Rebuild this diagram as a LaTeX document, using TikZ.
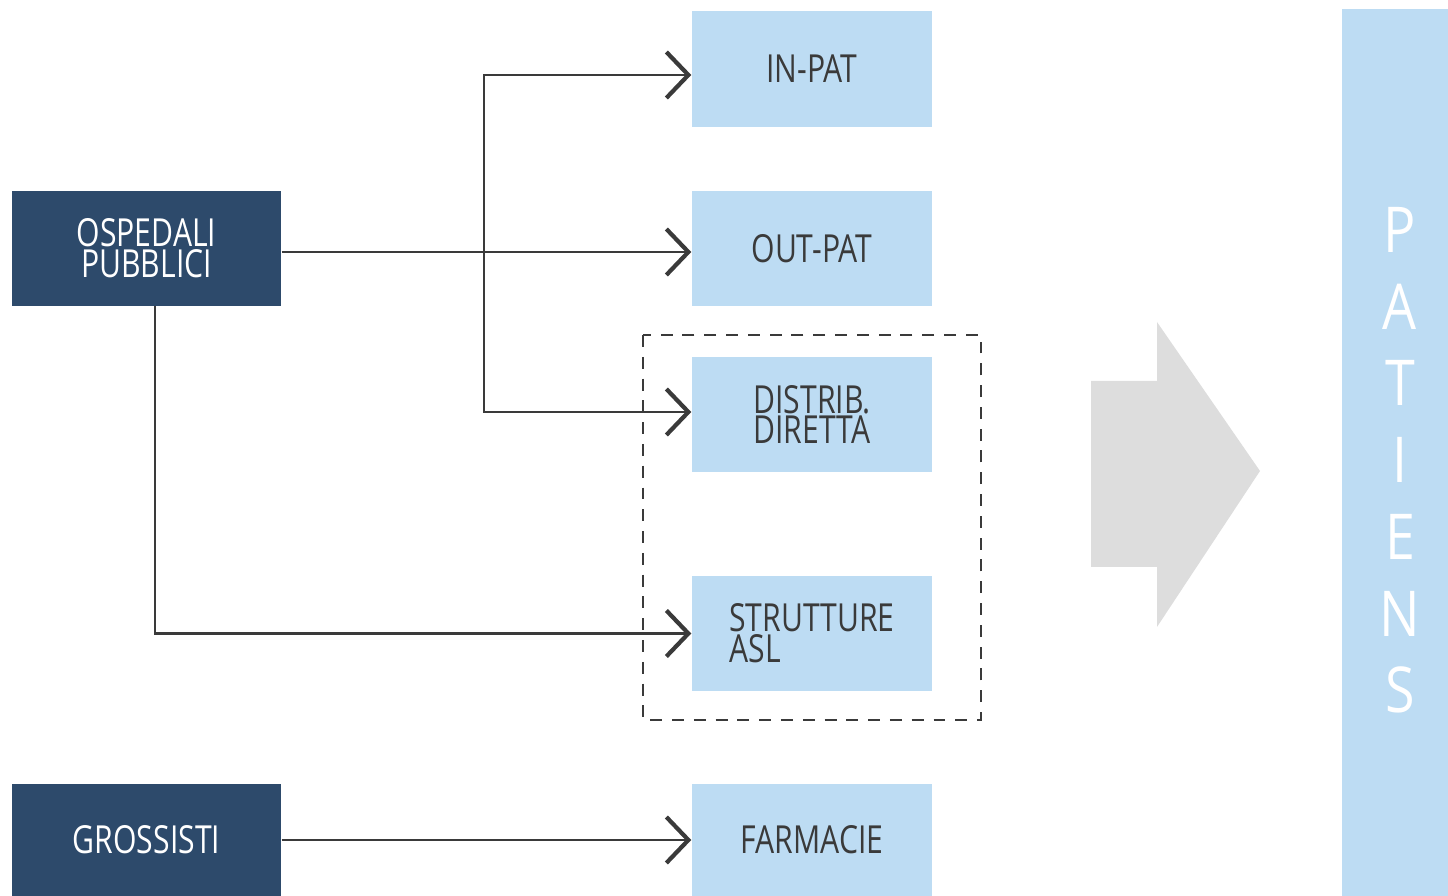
\documentclass[tikz,border=0pt]{standalone}
\usepackage{fontspec}
\setmainfont{Open Sans}
\newfontfamily\boxfont[FakeStretch=0.78]{Open Sans}
\usepackage{tikz}
\usetikzlibrary{arrows.meta}
\usetikzlibrary{positioning}

\definecolor{navy}{HTML}{2D4A6B}
\definecolor{skyblue}{HTML}{BDDCF3}
\definecolor{inkgray}{HTML}{3A3A3A}
\definecolor{shapegray}{HTML}{DDDDDD}

\begin{document}
\begin{tikzpicture}[
	darkbox/.style={rectangle, fill=navy, text=white, minimum width=2.69cm,
	                inner sep=0pt, align=center, font=\boxfont\fontsize{11}{8.8}\selectfont},
	lightbox/.style={rectangle, fill=skyblue, text=inkgray, minimum width=2.40cm,
	                 inner sep=0pt, align=left, font=\boxfont\fontsize{11}{8.8}\selectfont},
	flow/.style={draw=inkgray, line width=0.75pt, -{Straight Barb[length=2.2mm,width=4.6mm,line width=1.2pt]}}]
	\useasboundingbox (0,0) rectangle (14.48,-8.96);

	% sources
	\node[darkbox, minimum height=1.15cm] (osp) at (1.465,-2.485) {OSPEDALI\\PUBBLICI};
	\node[darkbox, minimum height=1.12cm] (gross) at (1.465,-8.40) {GROSSISTI};

	% channels
	\node[lightbox, minimum height=1.16cm] (inpat) at (8.12,-0.69) {IN-PAT};
	\node[lightbox, minimum height=1.15cm] (outpat) at (8.12,-2.485) {OUT-PAT};
	\node[lightbox, minimum height=1.15cm] (distrib) at (8.12,-4.145) {DISTRIB.\\DIRETTA};
	\node[lightbox, minimum height=1.15cm] (strutt) at (8.12,-6.335) {STRUTTURE\\ASL};
	\node[lightbox, minimum height=1.12cm] (farm) at (8.12,-8.40) {FARMACIE};

	\draw[inkgray, line width=0.75pt, dash pattern=on 3.4pt off 2.8pt] (6.43,-3.35) rectangle (9.81,-7.20);

	% big arrow
	\fill[shapegray] (10.91,-3.81) -- (11.57,-3.81) -- (11.57,-3.22) -- (12.60,-4.71)
		-- (11.57,-6.27) -- (11.57,-5.67) -- (10.91,-5.67) -- cycle;

	% patients bar
	\node[rectangle, fill=skyblue, minimum width=1.06cm, minimum height=8.87cm, inner sep=0pt] (bar) at (13.95,-4.525) {};
	\foreach \ch [count=\i from 0] in {P,A,T,I,E,N,S}
		\node[text=white, font=\fontsize{18}{18}\selectfont\addfontfeature{FakeStretch=0.85}, inner sep=0pt] (l\i) at (14.0,{-2.30-0.767*\i}) {\ch};

	% connectors
	\coordinate (split) at (4.84,-2.52);
	\draw[flow] (osp.east |- split) -- (outpat.west |- split);
	\draw[flow] (split) |- ([yshift=-0.06cm]inpat.west);
	\draw[flow] (split) |- ([yshift=0.025cm]distrib.west);
	\draw[flow] (1.55,-3.06) |- (strutt.west);
	\draw[flow] (gross.east) -- (farm.west);
\end{tikzpicture}
\end{document}
